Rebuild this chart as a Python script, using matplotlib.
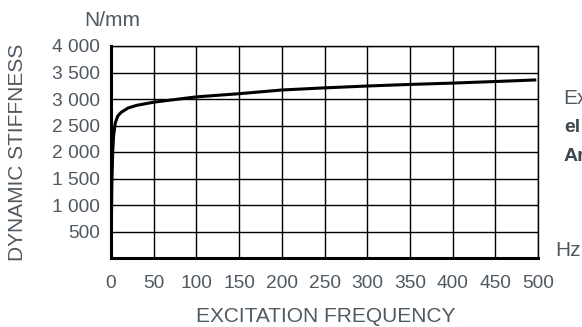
import numpy as np
import matplotlib
matplotlib.use("Agg")
import matplotlib.pyplot as plt

plt.rcParams['font.family'] = ['Liberation Sans', 'DejaVu Sans']

# data (Hz, N/mm)
freq = [0, 1, 2, 3, 5, 8, 12, 20, 30, 50, 75, 100, 150, 200, 250, 300, 350, 400, 450, 498]
stiff = [0, 1400, 2000, 2300, 2550, 2680, 2750, 2830, 2880, 2940, 2990, 3040, 3100, 3170, 3210, 3245, 3275, 3300, 3330, 3360]

xticks = [0, 50, 100, 150, 200, 250, 300, 350, 400, 450, 500]
yticks = [500, 1000, 1500, 2000, 2500, 3000, 3500, 4000]
ylabels = ['500', '1 000', '1 500', '2 000', '2 500', '3 000', '3 500', '4 000']

txt = '#4f5962'

fig = plt.figure(figsize=(5.82, 3.27), dpi=100)
ax = fig.add_axes([111 / 582, 1 - 258 / 327, 427 / 582, 212 / 327])

ax.plot(freq, stiff, color='black', lw=2.2, solid_capstyle='butt')
ax.set_xlim(0, 500)
ax.set_ylim(0, 4000)
ax.set_xticks(xticks)
ax.set_yticks(yticks)
ax.set_yticklabels(ylabels)
ax.grid(True, color='black', lw=1.0)
ax.tick_params(length=0, colors=txt, labelsize=13.8)
ax.tick_params(axis='x', pad=12)
ax.tick_params(axis='y', pad=8)
for s in ['top', 'right']:
    ax.spines[s].set_linewidth(1.0)
for s in ['left', 'bottom']:
    ax.spines[s].set_linewidth(2.2)

fig.text(112 / 582, 1 - 21 / 327, 'N/mm', color=txt, fontsize=15, ha='center', va='center')
fig.text(18 / 582, 1 - 152 / 327, 'DYNAMIC STIFFNESS', color=txt, fontsize=15,
         rotation=90, ha='center', va='center')
fig.text(326 / 582, 1 - 316 / 327, 'EXCITATION FREQUENCY', color=txt, fontsize=15,
         ha='center', va='center')
fig.text(555 / 582, 1 - 251 / 327, 'Hz', color=txt, fontsize=15, ha='left', va='center')
fig.text(563 / 582, 1 - 98 / 327, 'Ex', color=txt, fontsize=15, ha='left', va='center')
fig.text(564 / 582, 1 - 128 / 327, 'el', color='#3c4650', fontsize=14, fontweight='bold',
         ha='left', va='center')
fig.text(564 / 582, 1 - 157 / 327, 'Ar', color='#3c4650', fontsize=14, fontweight='bold',
         ha='left', va='center')

fig.savefig('out.png', dpi=100)
